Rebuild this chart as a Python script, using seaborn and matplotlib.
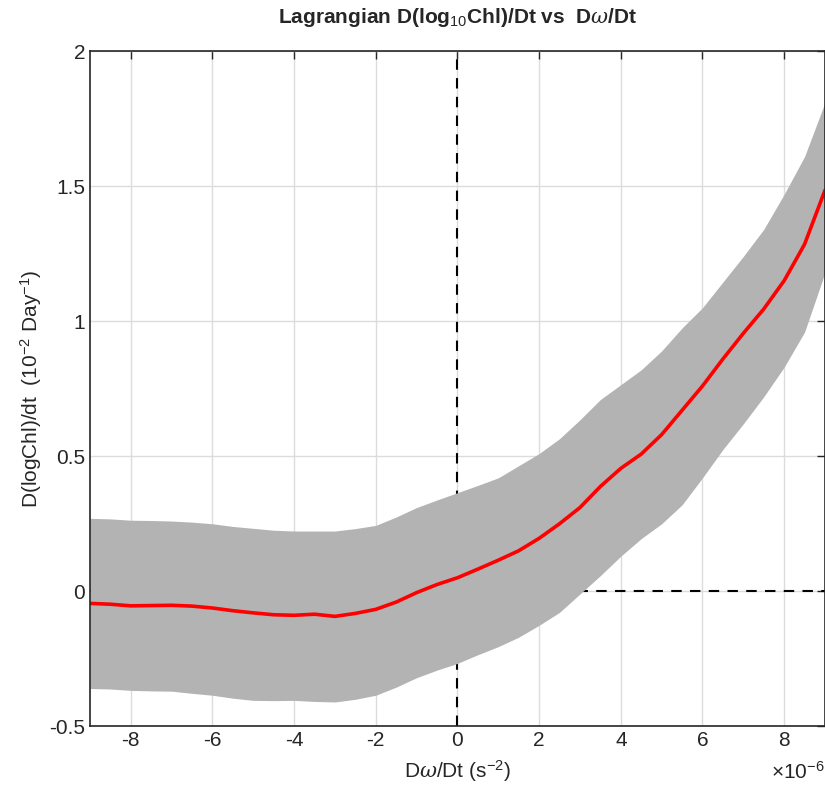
import numpy as np
import pandas as pd
import matplotlib
matplotlib.use("Agg")
import matplotlib.pyplot as plt
import seaborn as sns

# x in units of 1e-6 s^-2
dwdt = [-9, -8.5, -8, -7.5, -7, -6.5, -6, -5.5, -5, -4.5, -4, -3.5, -3,
        -2.5, -2, -1.5, -1, -0.5, 0, 0.5, 1, 1.5, 2, 2.5, 3, 3.5, 4, 4.5,
        5, 5.5, 6, 6.5, 7, 7.5, 8, 8.5, 9]

mean_rate = [-0.045, -0.048, -0.054, -0.053, -0.052, -0.055, -0.062, -0.072,
             -0.080, -0.087, -0.089, -0.085, -0.093, -0.082, -0.067, -0.040,
             -0.005, 0.025, 0.050, 0.082, 0.115, 0.150, 0.196, 0.250, 0.310,
             0.388, 0.455, 0.508, 0.580, 0.670, 0.760, 0.860, 0.955, 1.045,
             1.150, 1.285, 1.485]

upper_rate = [0.270, 0.268, 0.263, 0.262, 0.260, 0.256, 0.250, 0.240, 0.233,
              0.226, 0.223, 0.223, 0.223, 0.232, 0.244, 0.275, 0.310, 0.338,
              0.365, 0.392, 0.420, 0.465, 0.510, 0.565, 0.635, 0.710, 0.765,
              0.820, 0.890, 0.975, 1.050, 1.145, 1.240, 1.340, 1.470, 1.610,
              1.810]

lower_rate = [-0.360, -0.362, -0.367, -0.369, -0.370, -0.378, -0.385, -0.396,
              -0.404, -0.405, -0.404, -0.408, -0.410, -0.400, -0.385, -0.355,
              -0.320, -0.292, -0.267, -0.235, -0.205, -0.170, -0.126, -0.078,
              -0.010, 0.058, 0.130, 0.195, 0.250, 0.320, 0.420, 0.525, 0.620,
              0.720, 0.830, 0.960, 1.180]

xticks = [-8, -6, -4, -2, 0, 2, 4, 6, 8]
yticks = [-0.5, 0, 0.5, 1, 1.5, 2]
ytick_labels = ["-0.5", "0", "0.5", "1", "1.5", "2"]

df = pd.DataFrame({"x": dwdt, "mean": mean_rate,
                   "lo": lower_rate, "hi": upper_rate})

sns.set_style("white")
plt.rcParams["font.family"] = ["Liberation Sans", "DejaVu Sans"]
plt.rcParams["axes.unicode_minus"] = False
plt.rcParams["mathtext.fontset"] = "custom"
plt.rcParams["mathtext.rm"] = "Liberation Sans"
plt.rcParams["mathtext.it"] = "DejaVu Serif:italic"

fig = plt.figure(figsize=(8.25, 7.99), dpi=100)
ax = fig.add_axes([0.109, 0.091, 0.891, 0.845])

# grid and reference lines sit under the band
ax.grid(True, color="#dcdcdc", linewidth=1.0, zorder=0)
ax.axvline(0, color="black", linestyle=(0, (5, 4)), linewidth=1.5, zorder=1)
ax.axhline(0, color="black", linestyle=(0, (5, 4)), linewidth=1.5, zorder=1)

ax.fill_between(df["x"], df["lo"], df["hi"], color="#b3b3b3",
                linewidth=0, zorder=2)
sns.lineplot(data=df, x="x", y="mean", color="#ff0000", linewidth=2.6,
             ax=ax, zorder=3)

ax.set_xlim(-9, 9)
ax.set_ylim(-0.5, 2)
ax.set_xticks(xticks)
ax.set_xticklabels([str(t) for t in xticks])
ax.set_yticks(yticks)
ax.set_yticklabels(ytick_labels)
ax.tick_params(direction="in", length=6, width=1, labelsize=15,
               top=True, right=True, colors="#262626")
for s in ax.spines.values():
    s.set_color("#262626")
    s.set_linewidth(1.2)
    s.set_zorder(4)

ax.set_title(r"Lagrangian D(log$_{10}$Chl)/Dt vs  D$\omega$/Dt",
             fontsize=15, fontweight="bold", pad=20)
ax.set_xlabel(r"D$\omega$/Dt (s$^{-2}$)", fontsize=15, color="#262626",
              labelpad=6)
ax.set_ylabel(r"D(logChl)/dt  (10$^{-2}$ Day$^{-1}$)", fontsize=15,
              color="#262626")
ax.text(1.0, -0.052, r"$\times$10$^{-6}$", transform=ax.transAxes,
        ha="right", va="top", fontsize=15, color="#262626")

fig.savefig("out.png", dpi=100)
